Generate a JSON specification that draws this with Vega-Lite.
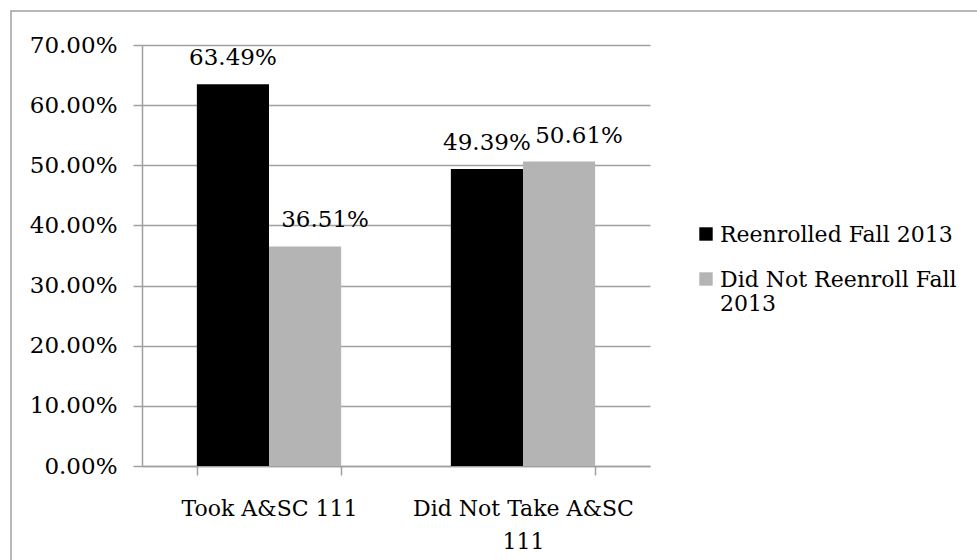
{
  "$schema": "https://vega.github.io/schema/vega-lite/v6.json",
  "width": 970,
  "height": 553,
  "autosize": "none",
  "padding": {"left": 11, "top": 11, "right": -4, "bottom": -4},
  "background": "white",
  "config": {
    "font": "DejaVu Serif",
    "view": {"stroke": "#a0a0a0", "strokeWidth": 1.5}
  },
  "data": {
    "values": [
      {"group": "Took A&SC 111", "status": "Reenrolled Fall 2013", "share": 0.6349},
      {"group": "Took A&SC 111", "status": "Did Not Reenroll Fall 2013", "share": 0.3651},
      {"group": "Did Not Take A&SC 111", "status": "Reenrolled Fall 2013", "share": 0.4939},
      {"group": "Did Not Take A&SC 111", "status": "Did Not Reenroll Fall 2013", "share": 0.5061}
    ]
  },
  "encoding": {
    "x": {
      "field": "group",
      "type": "nominal",
      "sort": null,
      "title": null,
      "scale": {"range": [131, 639], "paddingInner": 0.432, "paddingOuter": 0.216},
      "axis": {
        "orient": "bottom",
        "offset": -98,
        "labelAngle": 0,
        "domainColor": "#a0a0a0",
        "domainWidth": 1.5,
        "tickColor": "#a0a0a0",
        "tickWidth": 1.5,
        "tickSize": 9,
        "tickBand": "extent",
        "labelFont": "DejaVu Serif",
        "labelFontSize": 22,
        "labelColor": "#000000",
        "labelPadding": 23,
        "labelLineHeight": 33,
        "labelLimit": 400,
        "labelExpr": "datum.label == 'Did Not Take A&SC 111' ? ['Did Not Take A&SC', '111'] : datum.label"
      }
    },
    "xOffset": {
      "field": "status",
      "type": "nominal",
      "scale": {"domain": ["Reenrolled Fall 2013", "Did Not Reenroll Fall 2013"], "paddingInner": 0, "paddingOuter": 0}
    },
    "y": {
      "field": "share",
      "type": "quantitative",
      "title": null,
      "scale": {"domain": [0, 0.7], "range": [455, 34], "nice": false},
      "axis": {
        "offset": -131,
        "values": [0, 0.1, 0.2, 0.3, 0.4, 0.5, 0.6, 0.7],
        "format": ".2%",
        "domainColor": "#a0a0a0",
        "domainWidth": 1.5,
        "tickColor": "#a0a0a0",
        "tickWidth": 1.5,
        "tickSize": 9,
        "gridColor": "#a0a0a0",
        "gridWidth": 1.5,
        "gridOpacity": 1,
        "labelFont": "DejaVu Serif",
        "labelFontSize": 23,
        "labelColor": "#000000",
        "labelPadding": 16
      }
    }
  },
  "layer": [
    {
      "mark": {"type": "bar"},
      "encoding": {
        "color": {
          "field": "status",
          "type": "nominal",
          "scale": {"domain": ["Reenrolled Fall 2013", "Did Not Reenroll Fall 2013"], "range": ["#000000", "#b4b4b4"]},
          "legend": {
            "title": null,
            "orient": "none",
            "legendX": 684,
            "legendY": 212,
            "padding": 0,
            "symbolType": "square",
            "symbolSize": 180,
            "symbolStrokeWidth": 0,
            "labelFont": "DejaVu Serif",
            "labelFontSize": 22,
            "labelColor": "#000000",
            "labelOffset": 3,
            "labelLimit": 400,
            "labelBaseline": "alphabetic",
            "rowPadding": 22,
            "labelExpr": "datum.label == 'Did Not Reenroll Fall 2013' ? ['Did Not Reenroll Fall', '2013'] : datum.label",
            "encode": {
              "labels": {"update": {"dy": {"value": 8}, "lineHeight": {"value": 24}}}
            }
          }
        }
      }
    },
    {
      "transform": [{"filter": "datum.status == 'Reenrolled Fall 2013'"}],
      "mark": {"type": "text", "baseline": "alphabetic", "dy": -19, "fontSize": 23, "font": "DejaVu Serif", "color": "#000000"},
      "encoding": {"text": {"field": "share", "type": "quantitative", "format": ".2%"}}
    },
    {
      "transform": [{"filter": "datum.status == 'Did Not Reenroll Fall 2013'"}],
      "mark": {"type": "text", "baseline": "alphabetic", "dx": 20, "dy": -19, "fontSize": 23, "font": "DejaVu Serif", "color": "#000000"},
      "encoding": {"text": {"field": "share", "type": "quantitative", "format": ".2%"}}
    }
  ]
}
